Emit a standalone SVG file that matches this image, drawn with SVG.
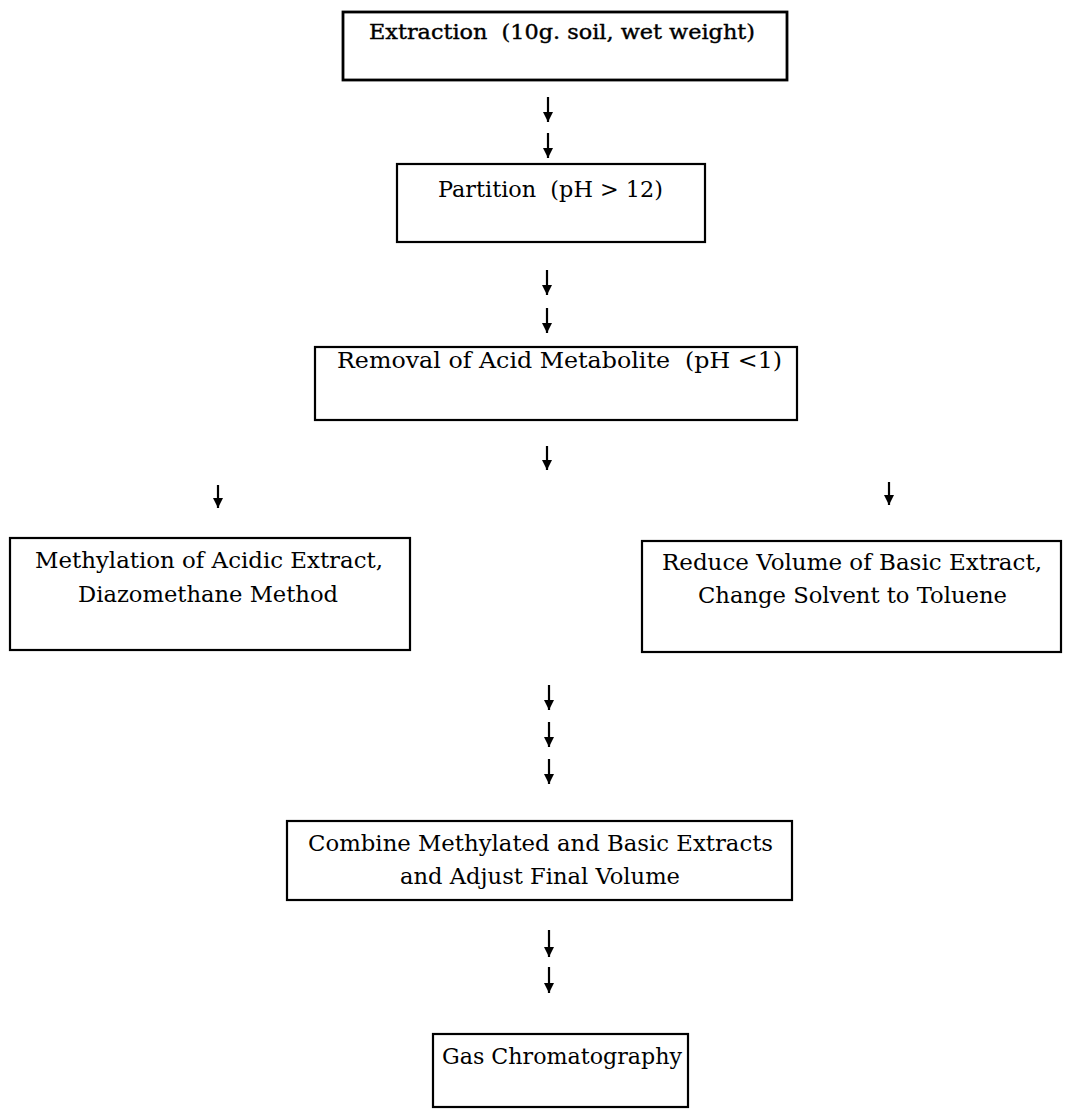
<svg xmlns="http://www.w3.org/2000/svg" width="1073" height="1109" viewBox="0 0 1073 1109">
  <defs>
    <marker id="ah" markerWidth="10" markerHeight="10" refX="10" refY="5" orient="auto" markerUnits="userSpaceOnUse" viewBox="0 0 10 10">
      <path d="M0,0 L10,5 L0,10 Z" fill="#000"/>
    </marker>
  </defs>
  <style>
    .box { fill: #fff; stroke: #000; stroke-width: 2.2; }
    .lbl { font-family: "DejaVu Serif", "Liberation Serif", serif; font-size: 23px; fill: #000; white-space: pre; }
    .arr { stroke: #000; stroke-width: 2.2; fill: none; marker-end: url(#ah); }
  </style>
  <rect x="0" y="0" width="1073" height="1109" fill="#fff"/>

  <g id="connectors">
    <path class="arr" d="M548,97 V122"/>
    <path class="arr" d="M548,133 V158"/>
    <path class="arr" d="M547,270 V295"/>
    <path class="arr" d="M547,308 V333"/>
    <path class="arr" d="M547,446 V470"/>
    <path class="arr" d="M218,485 V508"/>
    <path class="arr" d="M889,482 V505"/>
    <path class="arr" d="M549,685 V710"/>
    <path class="arr" d="M549,722 V747"/>
    <path class="arr" d="M549,759 V784"/>
    <path class="arr" d="M549,930 V957"/>
    <path class="arr" d="M549,967 V993"/>
  </g>

  <g id="extraction">
    <rect class="box" x="343" y="12" width="444" height="68" style="stroke-width:2.8"/>
    <text class="lbl" xml:space="preserve" x="369" y="39" textLength="386" lengthAdjust="spacingAndGlyphs" style="font-size:21px;stroke:#000;stroke-width:0.4">Extraction  (10g. soil, wet weight)</text>
  </g>

  <g id="partition">
    <rect class="box" x="397" y="164" width="308" height="78"/>
    <text class="lbl" xml:space="preserve" x="438" y="197" textLength="225" lengthAdjust="spacingAndGlyphs">Partition  (pH &gt; 12)</text>
  </g>

  <g id="removal">
    <rect class="box" x="315" y="347" width="482" height="73"/>
    <text class="lbl" xml:space="preserve" x="337" y="368" textLength="445" lengthAdjust="spacingAndGlyphs">Removal of Acid Metabolite  (pH &lt;1)</text>
  </g>

  <g id="methylation">
    <rect class="box" x="10" y="538" width="400" height="112"/>
    <text class="lbl" x="35" y="568" textLength="348" lengthAdjust="spacingAndGlyphs">Methylation of Acidic Extract,</text>
    <text class="lbl" x="78" y="602" textLength="260" lengthAdjust="spacingAndGlyphs">Diazomethane Method</text>
  </g>

  <g id="reduce">
    <rect class="box" x="642" y="541" width="419" height="111"/>
    <text class="lbl" x="662" y="570" textLength="380" lengthAdjust="spacingAndGlyphs">Reduce Volume of Basic Extract,</text>
    <text class="lbl" x="698" y="603" textLength="309" lengthAdjust="spacingAndGlyphs">Change Solvent to Toluene</text>
  </g>

  <g id="combine">
    <rect class="box" x="287" y="821" width="505" height="79"/>
    <text class="lbl" x="308" y="851" textLength="465" lengthAdjust="spacingAndGlyphs">Combine Methylated and Basic Extracts</text>
    <text class="lbl" x="400" y="884" textLength="280" lengthAdjust="spacingAndGlyphs">and Adjust Final Volume</text>
  </g>

  <g id="gc">
    <rect class="box" x="433" y="1034" width="255" height="73"/>
    <text class="lbl" x="442" y="1064" textLength="240" lengthAdjust="spacingAndGlyphs">Gas Chromatography</text>
  </g>
</svg>
